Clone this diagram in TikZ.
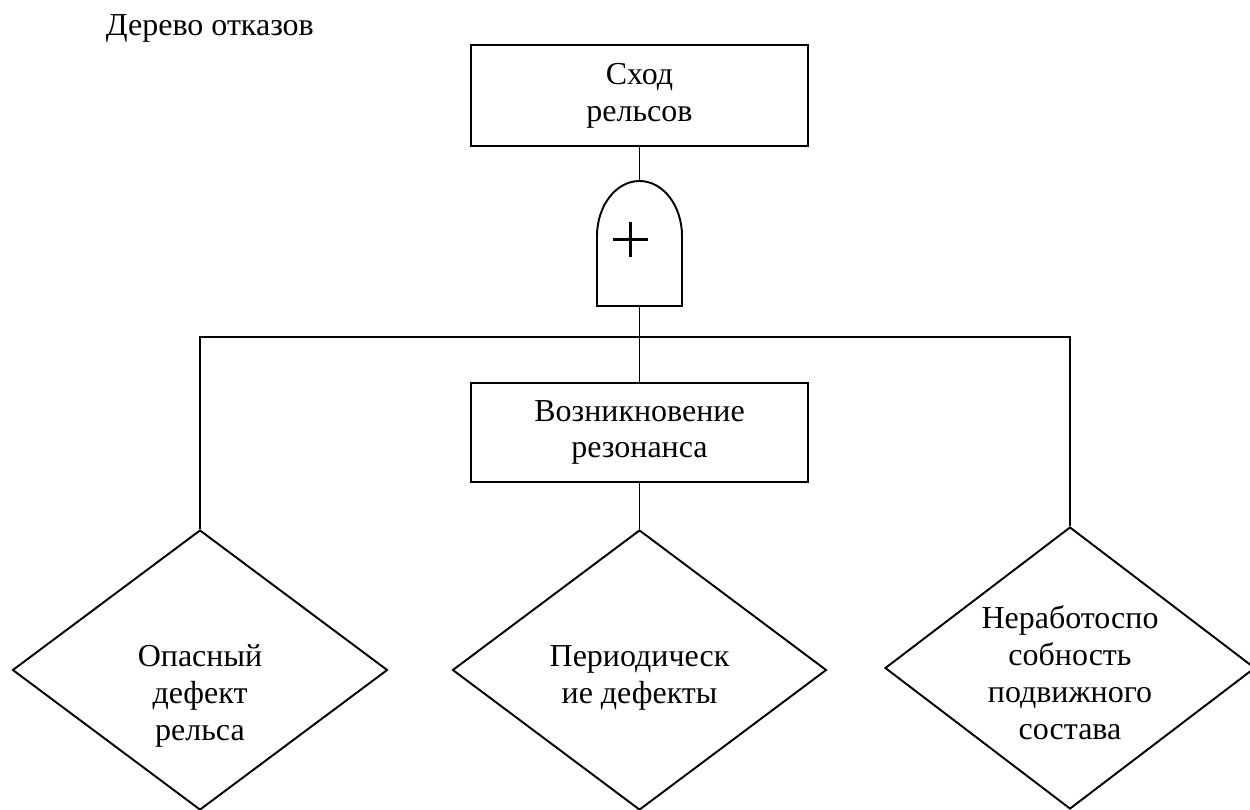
\documentclass[tikz,border=0pt]{standalone}
\usepackage{fontspec}
\setmainfont{Liberation Serif}
\usetikzlibrary{
    positioning,
    shapes.geometric,
    calc,
}

\begin{document}
\begin{tikzpicture}[
    line width=1.1pt,
    every node/.style={font=\fontsize{18.2pt}{20.9pt}\selectfont},
    box/.style={rectangle, draw, minimum width=6.74cm, minimum height=2.02cm,
                align=center, inner sep=0pt},
    basic/.style={diamond, draw, minimum width=7.5cm, minimum height=5.6cm, inner sep=0pt},
    txt/.style={align=center, inner sep=0pt, anchor=north},
    plus/.style={line width=2.2pt},
]
    \clip (0,0) rectangle (25,-16.18);

    % Title
    \node[anchor=base west, inner sep=0pt] (title) at (2.1,-0.7) {Дерево отказов};

    % Top event
    \node[box] (top) at (12.79,-1.91) {Сход\\рельсов};

    % OR gate
    \coordinate (gtop) at (12.79,-3.62);
    \coordinate (gbot) at (12.79,-6.12);
    \draw (gbot) -- ++(-0.85,0) -- ++(0,1.4)
        arc[start angle=180, end angle=0, x radius=0.85, y radius=1.1]
        -- ++(0,-1.4) -- cycle;
    \draw[plus] (12.26,-4.79) -- (12.96,-4.79) (12.61,-4.44) -- (12.61,-5.14);

    % Intermediate event
    \node[box, minimum height=1.98cm] (mid) at (12.79,-8.65) {Возникновение\\резонанса};

    % Basic events
    \node[basic] (d1) at (4.0,-13.4) {};
    \node[basic, minimum width=7.48cm] (d2) at (12.79,-13.4) {};
    \node[basic, minimum width=7.4cm, minimum height=5.64cm] (d3) at (21.4,-13.36) {};

    \node[txt] (t1) at ([yshift=-2.3cm]d1.north) {Опасный\\дефект\\рельса};
    \node[txt] (t2) at ([yshift=-2.32cm]d2.north) {Периодическ\\ие дефекты};
    \node[txt] (t3) at ([yshift=-1.58cm]d3.north) {Неработоспо\\собность\\подвижного\\состава};

    % Connectors
    \coordinate (bus) at ($(gbot)+(0,-0.62)$);
    \draw (top) -- (gtop);
    \draw (gbot) -- (mid);
    \draw (d1.north) |- (bus) -| (d3.north);
    \draw (mid) -- (d2);
\end{tikzpicture}
\end{document}
